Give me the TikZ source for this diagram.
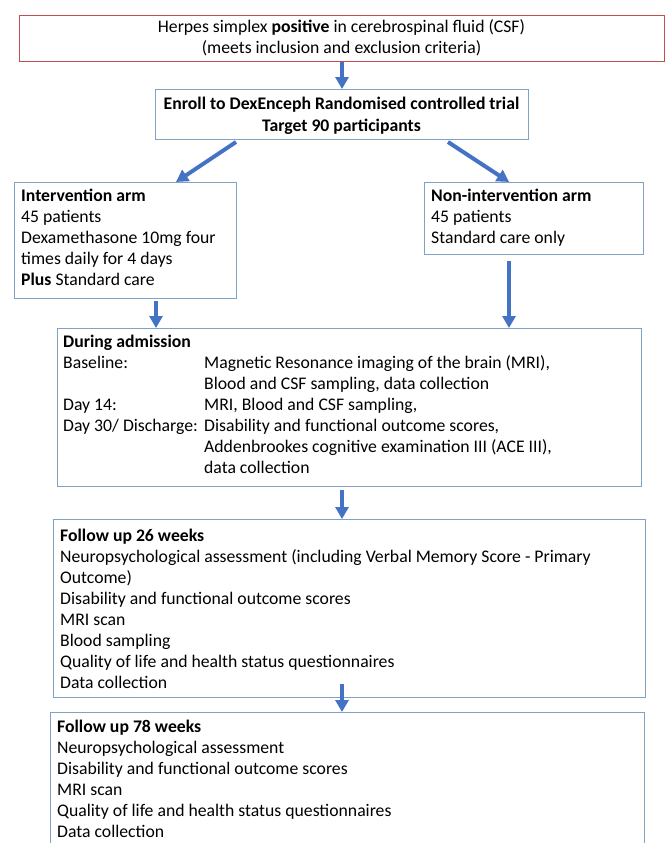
\documentclass[tikz,border=0pt]{standalone}
\usepackage{fontspec}
\setmainfont{Carlito}
\usetikzlibrary{arrows.meta,calc}
\definecolor{redline}{RGB}{192,80,77}
\definecolor{boxline}{RGB}{126,163,196}
\definecolor{arrowblue}{RGB}{68,114,196}
\newcommand{\bodyfont}{\fontsize{17.7}{21}\selectfont}
\begin{document}
\begin{tikzpicture}[x=1pt,y=-1pt,
  frame/.style={draw=boxline, line width=1pt, anchor=north west, inner sep=0pt},
  redframe/.style={draw=redline, line width=1pt, anchor=north west, inner sep=0pt},
  txt/.style={anchor=north west, inner sep=0pt, align=left, font=\bodyfont},
  ctxt/.style={anchor=north, inner sep=0pt, align=center, font=\bodyfont},
  arr/.style={draw=arrowblue, line width=4pt, -{Triangle[width=13pt,length=12pt]}}
]
\useasboundingbox (0,0) rectangle (665,843);
\clip (0,0) rectangle (665,843);
\fill[white] (0,0) rectangle (665,843);

% boxes
\node[redframe, minimum width=645pt, minimum height=46pt] (csf) at (19,15) {};
\node[frame, minimum width=373pt, minimum height=50pt] (enroll) at (155,89) {};
\node[frame, minimum width=222pt, minimum height=116pt] (int) at (14,182) {};
\node[frame, minimum width=219pt, minimum height=72pt] (non) at (424,182) {};
\node[frame, minimum width=584pt, minimum height=158pt] (adm) at (57,328) {};
\node[frame, minimum width=592pt, minimum height=178pt] (fu26) at (53,519) {};
\node[frame, minimum width=594pt, minimum height=150pt] (fu78) at (50,712) {};

% texts (first baseline = position + 14.7)
\node[ctxt] (csftxt) at (341.5,17.5) {\strut Herpes simplex \textbf{positive} in cerebrospinal fluid (CSF)\\(meets inclusion and exclusion criteria)};
\node[ctxt, font=\fontsize{17.7}{22}\selectfont\bfseries] (enrolltxt) at (341.5,93.7) {\strut Enroll to DexEnceph Randomised controlled trial\\Target 90 participants};
\node[txt] (inttxt) at (21,186.8) {\strut\textbf{Intervention arm}\\45 patients\\Dexamethasone 10mg four\\times daily for 4 days\\\textbf{Plus} Standard care};
\node[txt] (nontxt) at (431,186.8) {\strut\textbf{Non-intervention arm}\\45 patients\\Standard care only};
\node[txt] (admtxt) at (63,332.8) {\strut\textbf{During admission}\\
\makebox[141pt][l]{Baseline:}Magnetic Resonance imaging of the brain (MRI),\\
\hspace*{141pt}Blood and CSF sampling, data collection\\
\makebox[141pt][l]{Day 14:}MRI, Blood and CSF sampling,\\
\makebox[141pt][l]{Day 30/ Discharge:}Disability and functional outcome scores,\\
\hspace*{141pt}Addenbrookes cognitive examination III (ACE III),\\
\hspace*{141pt}data collection};
\node[txt] (fu26txt) at (60,526.8) {\strut\textbf{Follow up 26 weeks}\\Neuropsychological assessment (including Verbal Memory Score - Primary\\Outcome)\\Disability and functional outcome scores\\MRI scan\\Blood sampling\\Quality of life and health status questionnaires\\Data collection};
\node[txt] (fu78txt) at (57,717.8) {\strut\textbf{Follow up 78 weeks}\\Neuropsychological assessment\\Disability and functional outcome scores\\MRI scan\\Quality of life and health status questionnaires\\Data collection};

% arrows
\draw[arr] (csf.south) -- (enroll.north);
\draw[arr] ([xshift=81pt,yshift=-2pt]enroll.south west) -- ([xshift=162pt]int.north west);
\draw[arr] ([xshift=-81pt,yshift=-2pt]enroll.south east) -- ([xshift=85pt]non.north west);
\draw[arr] ([xshift=142pt,yshift=-2pt]int.south west) -- ([xshift=99pt]adm.north west);
\draw[arr] ([xshift=85pt,yshift=-6pt]non.south west) -- ([xshift=452pt]adm.north west);
\draw[arr] ([yshift=-3pt]csf.south |- adm.south) -- (csf.south |- fu26.north);
\draw[arr] ([yshift=14pt]csf.south |- fu26.south) -- (csf.south |- fu78.north);
\end{tikzpicture}
\end{document}
